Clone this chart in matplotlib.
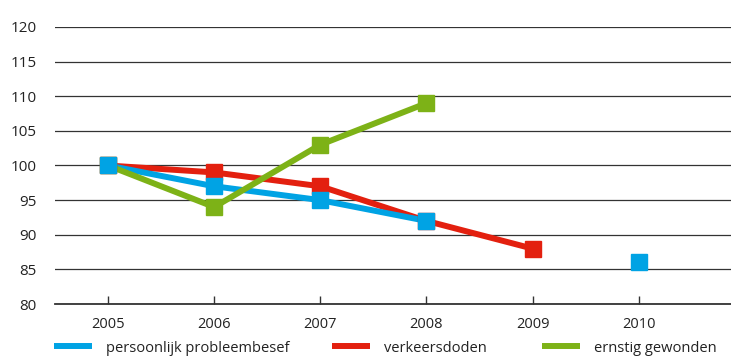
import numpy as np
import matplotlib.pyplot as plt

plt.rcParams['font.family'] = ['Open Sans', 'DejaVu Sans']

years = ['2005', '2006', '2007', '2008', '2009', '2010']
y_ticks = [80, 85, 90, 95, 100, 105, 110, 115, 120]

# index 2005 = 100, nan where no value
probleembesef = [100, 97, 95, 92, np.nan, 86]
verkeersdoden = [100, 99, 97, 92, 88, np.nan]
gewonden = [100, 94, 103, 109, np.nan, np.nan]

labels = ['persoonlijk probleembesef', 'verkeersdoden', 'ernstig gewonden']
colors = ['#00a3e4', '#e3200f', '#7db217']

fig = plt.figure(figsize=(7.31, 3.6), dpi=100)
ax = fig.add_axes([55 / 731, 56 / 360, 1 - 55 / 731, 277 / 360])

x = np.arange(len(years))
series = [probleembesef, verkeersdoden, gewonden]

for vals, col, z in zip(series, colors, [3, 2, 4]):
    ax.plot(x, vals, color=col, lw=4.3, solid_capstyle='butt', zorder=z)
for vals, col, z in zip(series, colors, [7, 6, 5]):
    ax.plot(x, vals, ls='none', marker='s', ms=12, color=col, zorder=z)

ax.set_xlim(-0.5, 5.87)
ax.set_ylim(80, 120)
ax.set_yticks(y_ticks)
ax.set_xticks(x)
ax.set_xticklabels(years)
ax.yaxis.grid(True, color='#333333', lw=0.9)
ax.set_axisbelow(True)
for s in ['top', 'right', 'left']:
    ax.spines[s].set_visible(False)
ax.spines['bottom'].set_color('#333333')
ax.spines['bottom'].set_linewidth(1.3)
ax.tick_params(axis='y', length=0, pad=13, labelsize=11, colors='#222222')
ax.tick_params(axis='x', direction='in', length=6, width=1, color='#333333',
               pad=9, labelsize=10.5, labelcolor='#222222')
for t in ax.get_yticklabels():
    t.set_horizontalalignment('right')

# legend entries placed one by one
legend_x = [48 / 731, 326 / 731, 536 / 731]
for lab, col, lx in zip(labels, colors, legend_x):
    h, = ax.plot([], [], color=col, lw=4.3, solid_capstyle='butt')
    fig.legend([h], [lab], loc='center left', bbox_to_anchor=(lx, 12 / 360),
               frameon=False, fontsize=10.5, handlelength=2.6, handletextpad=1.0,
               borderaxespad=0, labelcolor='#222222')

fig.savefig('out.png', dpi=100)
